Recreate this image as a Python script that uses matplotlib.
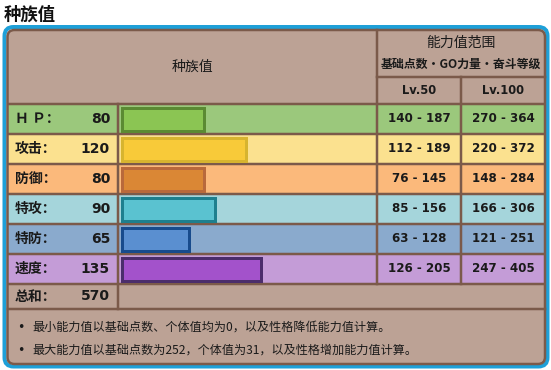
import matplotlib
matplotlib.use('Agg')
import matplotlib.pyplot as plt
from matplotlib.patches import FancyBboxPatch, Rectangle
import numpy as np

plt.rcParams['font.family'] = ['Noto Sans CJK SC', 'DejaVu Sans']

# ---------------- data ----------------
title = '种族值'
header_left = '种族值'
header_right1 = '能力值范围'
header_right2 = '基础点数・GO力量・奋斗等级'
level_labels = ['Lv.50', 'Lv.100']
stat_labels = ['Ｈ Ｐ：', '攻击：', '防御：', '特攻：', '特防：', '速度：']
base_stats = [80, 120, 80, 90, 65, 135]
lv50_min = [140, 112, 76, 85, 63, 126]
lv50_max = [187, 189, 145, 156, 128, 205]
lv100_min = [270, 220, 148, 166, 121, 247]
lv100_max = [364, 372, 284, 306, 251, 405]
total_label = '总和：'
total_value = 570
notes = ['最小能力值以基础点数、个体值均为0，以及性格降低能力值计算。',
         '最大能力值以基础点数为252，个体值为31，以及性格增加能力值计算。']

# ---------------- style ----------------
row_bg = ['#9bc87c', '#fbe18f', '#fbb97b', '#a5d5db', '#8aaacd', '#c49cd7']
bar_fill = ['#8bc553', '#f8ca39', '#da8735', '#5ac2d0', '#5a8fd0', '#a352cb']
bar_edge = ['#5b8a33', '#d7b42f', '#b9693b', '#1e7f8e', '#184b8c', '#4b2d6b']
brown_bg = '#bca295'
brown_line = '#7b5a4a'
blue = '#1ea0d8'
txt = '#1a1a1a'

W, H = 551, 370
fig = plt.figure(figsize=(W / 100, H / 100), dpi=100)
ax = fig.add_axes([0, 0, 1, 1])
ax.set_xlim(0, W)
ax.set_ylim(H, 0)
ax.axis('off')

px = 72 / 100  # points per pixel

# title
ax.text(4, 15, title, fontsize=12.5, fontweight='bold', color='#111', va='center', ha='left')

# outer blue box
L, T, R, B = 4.5, 27, 547.5, 366.5
ax.add_patch(FancyBboxPatch((L, T), R - L, B - T, boxstyle='round,pad=0,rounding_size=9',
                            facecolor='none', edgecolor=blue, linewidth=4 * px, zorder=1))
# inner table box background
L2, T2, R2, B2 = 7.5, 30, 545, 364
ax.add_patch(FancyBboxPatch((L2, T2), R2 - L2, B2 - T2, boxstyle='round,pad=0,rounding_size=7',
                            facecolor=brown_bg, edgecolor='none', zorder=1))

row_top0 = 104
row_h = 30
n = len(base_stats)
col_name_r = 118
col_bar_r = 377
col_mid = 461
total_top = row_top0 + n * row_h
total_bot = 309

# row backgrounds
for i in range(n):
    ax.add_patch(Rectangle((L2, row_top0 + i * row_h), R2 - L2, row_h,
                           facecolor=row_bg[i], edgecolor='none', zorder=2))

# grid lines
lw = 2.5 * px
for i in range(n + 1):
    y = row_top0 + i * row_h
    ax.plot([L2, R2], [y, y], color=brown_line, lw=lw, zorder=3, solid_capstyle='butt')
ax.plot([L2, R2], [total_bot, total_bot], color=brown_line, lw=lw, zorder=3)
ax.plot([col_bar_r, R2], [77, 77], color=brown_line, lw=lw, zorder=3)
ax.plot([col_name_r, col_name_r], [row_top0, total_bot], color=brown_line, lw=lw, zorder=3)
ax.plot([col_bar_r, col_bar_r], [T2, total_top], color=brown_line, lw=lw, zorder=3)
ax.plot([col_mid, col_mid], [77, total_top], color=brown_line, lw=lw, zorder=3)

# table border on top
ax.add_patch(FancyBboxPatch((L2, T2), R2 - L2, B2 - T2, boxstyle='round,pad=0,rounding_size=7',
                            facecolor='none', edgecolor=brown_line, linewidth=2.5 * px, zorder=4))

# headers
ax.text(192, 67, header_left, fontsize=10, color=txt, ha='center', va='center', zorder=5)
ax.text((col_bar_r + R2) / 2, 43, header_right1, fontsize=10, color=txt, ha='center', va='center', zorder=5)
ax.text((col_bar_r + R2) / 2, 64, header_right2, fontsize=8.6, fontweight='bold', color=txt,
        ha='center', va='center', zorder=5)
c50 = (col_bar_r + col_mid) / 2
c100 = (col_mid + R2) / 2
ax.text(c50, 91, level_labels[0], fontsize=8.3, fontweight='bold', color=txt, ha='center', va='center',
        family='DejaVu Sans', zorder=5)
ax.text(c100, 91, level_labels[1], fontsize=8.3, fontweight='bold', color=txt, ha='center', va='center',
        family='DejaVu Sans', zorder=5)

centers = np.array([row_top0 + row_h * (i + 0.5) for i in range(n)])

# bars
PX_PER_PT = 1.035
ax.barh(centers, np.array(base_stats) * PX_PER_PT, left=121.5, height=23,
        color=bar_fill, edgecolor=bar_edge, linewidth=3 * px, zorder=5)

for i in range(n):
    yc = centers[i]
    ax.text(15, yc, stat_labels[i], fontsize=10, fontweight='bold', color=txt, ha='left', va='center', zorder=6)
    ax.text(110, yc, str(base_stats[i]), fontsize=10, fontweight='bold', color=txt, ha='right', va='center',
            family='DejaVu Sans', zorder=6)
    ax.text(c50, yc, f'{lv50_min[i]} - {lv50_max[i]}', fontsize=8.6, fontweight='bold', color=txt,
            ha='center', va='center', family='DejaVu Sans', zorder=6)
    ax.text(c100, yc, f'{lv100_min[i]} - {lv100_max[i]}', fontsize=8.6, fontweight='bold', color=txt,
            ha='center', va='center', family='DejaVu Sans', zorder=6)

ty = (total_top + total_bot) / 2
ax.text(15, ty, total_label, fontsize=10, fontweight='bold', color=txt, ha='left', va='center', zorder=6)
ax.text(110, ty, str(total_value), fontsize=10, fontweight='bold', color=txt, ha='right', va='center',
        family='DejaVu Sans', zorder=6)

# notes
for k, note in enumerate(notes):
    y = 327 + k * 23.5
    ax.text(21, y, '•', fontsize=9, color=txt, ha='center', va='center', family='DejaVu Sans', zorder=6)
    ax.text(32, y, note, fontsize=8.7, color=txt, ha='left', va='center', zorder=6)

fig.savefig('out.png', dpi=100)
